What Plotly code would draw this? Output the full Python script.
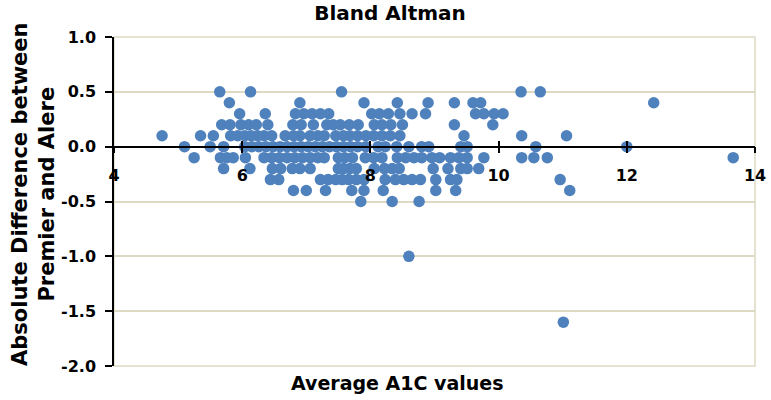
import plotly.graph_objects as go

# difference levels (rows of the scatter) and the average A1C values read at each level
diff_levels = [0.5, 0.4, 0.3, 0.2, 0.1, 0.0, -0.1, -0.2, -0.3, -0.4, -0.5, -1.0, -1.6]

avg_p05 = [5.65, 6.13, 7.55, 10.35, 10.65]
avg_p04 = [5.80, 6.90, 7.90, 8.42, 8.90, 9.31, 9.60, 9.72, 12.42]
avg_p03 = [5.96, 6.36, 6.83, 6.96, 7.09, 7.22, 7.35, 8.02, 8.14, 8.28, 8.46, 8.65, 8.86,
           9.64, 9.77, 9.93, 10.07]
avg_p02 = [5.68, 5.81, 5.98, 6.10, 6.22, 6.40, 6.79, 6.92, 7.11, 7.32, 7.42, 7.53, 7.67,
           7.81, 8.06, 8.18, 8.32, 8.50, 9.31, 9.91]
avg_p01 = [4.75, 5.35, 5.55, 5.82, 5.93, 6.04, 6.14, 6.24, 6.34, 6.46, 6.67, 6.80, 6.90,
           7.06, 7.18, 7.28, 7.46, 7.58, 7.68, 7.80, 7.93, 8.05, 8.18, 8.31, 8.46, 9.46,
           10.36, 11.06]
avg_0 = [5.10, 5.50, 5.71, 6.04, 6.15, 6.26, 6.37, 6.48, 6.59, 6.70, 6.81, 6.92, 7.03,
         7.14, 7.25, 7.36, 7.47, 7.58, 7.69, 7.80, 7.93, 8.12, 8.23, 8.41, 8.60, 8.80,
         8.91, 9.41, 9.51, 10.58, 12.00]
avg_m01 = [5.25, 5.66, 5.76, 5.86, 6.05, 6.34, 6.46, 6.58, 6.70, 6.82, 6.94, 7.06, 7.18,
           7.28, 7.50, 7.60, 7.72, 7.92, 8.05, 8.18, 8.42, 8.55, 8.68, 8.80, 8.96, 9.08,
           9.25, 9.38, 9.51, 9.77, 10.36, 10.55, 10.76, 13.66]
avg_m02 = [5.71, 6.12, 6.47, 6.60, 6.78, 6.90, 7.06, 7.50, 7.58, 7.68, 7.78, 8.06, 8.22,
           8.34, 8.45, 8.98, 9.21, 9.41, 9.51, 9.69]
avg_m03 = [6.44, 6.57, 7.22, 7.34, 7.46, 7.56, 7.66, 7.78, 7.90, 8.23, 8.39, 8.52, 8.65,
           8.78, 9.02, 9.25, 9.35, 10.96]
avg_m04 = [6.80, 7.00, 7.30, 7.71, 7.90, 8.20, 9.02, 9.33, 11.11]
avg_m05 = [7.85, 8.34, 8.76]
avg_m10 = [8.60]
avg_m16 = [11.01]

rows = [avg_p05, avg_p04, avg_p03, avg_p02, avg_p01, avg_0, avg_m01, avg_m02,
        avg_m03, avg_m04, avg_m05, avg_m10, avg_m16]

avg_a1c, abs_diff = [], []
for level, xs in zip(diff_levels, rows):
    avg_a1c += xs
    abs_diff += [level] * len(xs)

x_ticks = [4, 6, 8, 10, 12, 14]
y_ticks = [1.0, 0.5, 0.0, -0.5, -1.0, -1.5, -2.0]
y_labels = ["1.0", "0.5", "0.0", "-0.5", "-1.0", "-1.5", "-2.0"]

FONT = "DejaVu Sans"
GRID = "#DDD9C3"
bold = dict(family=FONT, size=16, weight="bold", color="black")

fig = go.Figure()
fig.add_trace(go.Scatter(
    x=avg_a1c, y=abs_diff, mode="markers",
    marker=dict(size=11.5, color="#4F81BD", line=dict(width=0)),
    showlegend=False,
))
# invisible trace so the second x axis (crossing ticks) exists
fig.add_trace(go.Scatter(x=[4, 14], y=[0, 0], xaxis="x2", mode="markers",
                         marker=dict(opacity=0), showlegend=False, hoverinfo="skip"))

fig.update_layout(
    width=771, height=400,
    margin=dict(l=114, r=16, t=37, b=34),
    paper_bgcolor="white", plot_bgcolor="white",
    font=dict(family=FONT, color="black"),
    title=dict(text="Bland Altman", x=390 / 771, xanchor="center",
               y=1 - 13 / 400, yanchor="middle", yref="container",
               font=dict(size=20, family=FONT, weight="bold")),
    xaxis=dict(range=[4, 14], tickvals=x_ticks, showgrid=False, zeroline=False,
               showline=True, linecolor="black", linewidth=1.5,
               anchor="free", position=2 / 3, automargin=False,
               ticks="outside", ticklen=6, tickwidth=1.5, tickcolor="black",
               tickfont=bold, ticklabelstandoff=8),
    xaxis2=dict(range=[4, 14], tickvals=x_ticks, overlaying="x", anchor="free",
                position=2 / 3, showgrid=False, zeroline=False, showline=False,
                automargin=False,
                ticks="inside", ticklen=6, tickwidth=1.5, tickcolor="black",
                showticklabels=False),
    yaxis=dict(range=[-2, 1], tickvals=y_ticks, ticktext=y_labels, automargin=False,
               showgrid=True, gridcolor=GRID, gridwidth=1.5, zeroline=False,
               showline=True, linecolor="black", linewidth=1.5,
               ticks="outside", ticklen=7, tickwidth=1.5, tickcolor="black",
               tickfont=bold, ticklabelstandoff=6),
)

# plot area border (right side visible in the original)
fig.add_shape(type="rect", xref="paper", yref="paper", x0=0, x1=1, y0=0, y1=1,
              line=dict(color=GRID, width=1.5), layer="below")

fig.add_annotation(text="Average A1C values", xref="paper", yref="paper",
                   x=(397 - 114) / 641, y=(366 - 383) / 329, xanchor="center",
                   yanchor="middle", showarrow=False,
                   font=dict(size=19, family=FONT, weight="bold"))
fig.add_annotation(text="Absolute Difference between<br>Premier and Alere",
                   xref="paper", yref="paper", x=(33 - 114) / 641, y=(366 - 194) / 329,
                   xanchor="center", yanchor="middle", textangle=-90, showarrow=False,
                   font=dict(size=21, family=FONT, weight="bold"))

# drop the browser's default page margin so the figure fills the window exactly
fig.write_html("out.html", config={"displayModeBar": False},
               post_script="document.body.style.margin='0';")
